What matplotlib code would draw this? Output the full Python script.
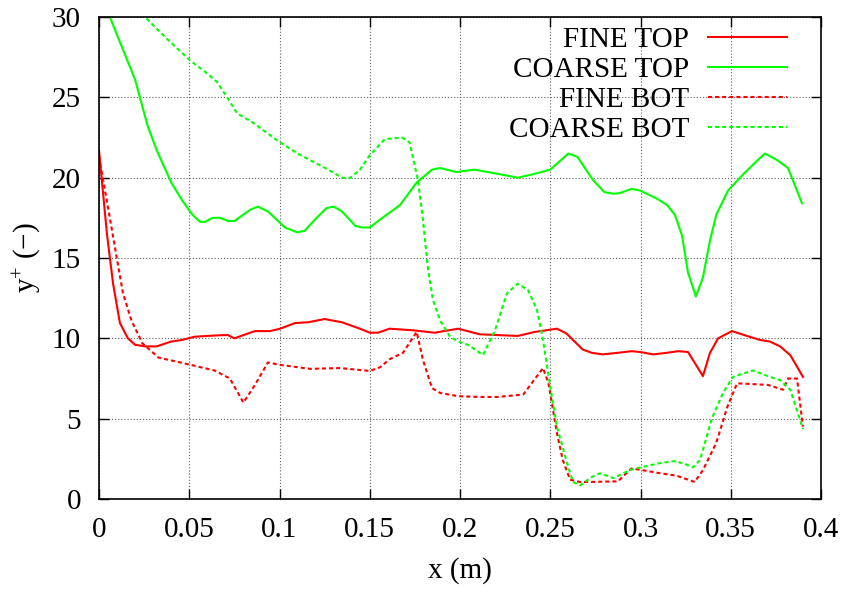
import numpy as np
import matplotlib
matplotlib.use('Agg')
import matplotlib.pyplot as plt

plt.rcParams['font.family'] = ['Liberation Serif', 'DejaVu Serif']
plt.rcParams['mathtext.fontset'] = 'custom'
plt.rcParams['mathtext.rm'] = 'Liberation Serif'
plt.rcParams['mathtext.it'] = 'Liberation Serif:italic'

# FINE TOP (solid red)
fine_top_x = [0.0, 0.0044, 0.0078, 0.0116, 0.016, 0.02, 0.0255, 0.032, 0.040, 0.046,
              0.053, 0.060, 0.0687, 0.0715, 0.075, 0.080, 0.0864, 0.0947, 0.1003, 0.1086,
              0.1158, 0.125, 0.1346, 0.1446, 0.150, 0.1546, 0.161, 0.174, 0.186, 0.199,
              0.211, 0.232, 0.2415, 0.2537, 0.259, 0.268, 0.273, 0.279, 0.2875, 0.295,
              0.2997, 0.307, 0.3147, 0.3208, 0.3263, 0.3346, 0.3385, 0.343, 0.3507, 0.359,
              0.3662, 0.3717, 0.3773, 0.383, 0.390]
fine_top_y = [21.7, 16.5, 13.4, 10.95, 10.0, 9.6, 9.5, 9.5, 9.8, 9.9,
              10.1, 10.15, 10.2, 10.2, 10.0, 10.2, 10.45, 10.45, 10.6, 10.95,
              11.0, 11.2, 11.0, 10.6, 10.35, 10.35, 10.6, 10.5, 10.35, 10.6,
              10.25, 10.15, 10.4, 10.6, 10.3, 9.3, 9.1, 9.0, 9.1, 9.2,
              9.15, 9.0, 9.1, 9.2, 9.15, 7.65, 9.1, 10.0, 10.45, 10.15,
              9.9, 9.8, 9.5, 8.95, 7.6]

# COARSE TOP (solid green)
coarse_top_x = [0.0, 0.006, 0.02, 0.027, 0.032, 0.040, 0.046, 0.0517, 0.056, 0.0587,
                0.063, 0.067, 0.0716, 0.075, 0.0837, 0.088, 0.0936, 0.103, 0.1097, 0.114,
                0.1197, 0.126, 0.13, 0.1346, 0.142, 0.1457, 0.150, 0.157, 0.1668, 0.176,
                0.1845, 0.189, 0.198, 0.208, 0.218, 0.232, 0.240, 0.250, 0.260, 0.265,
                0.2737, 0.280, 0.285, 0.2886, 0.295, 0.2997, 0.309, 0.3147, 0.319, 0.323,
                0.3263, 0.3307, 0.3346, 0.3385, 0.342, 0.3485, 0.3568, 0.365, 0.369, 0.3756,
                0.3817, 0.3895]
coarse_top_y = [31.7, 30.0, 26.1, 23.2, 21.7, 19.7, 18.6, 17.7, 17.25, 17.25,
                17.5, 17.5, 17.3, 17.3, 18.0, 18.2, 17.9, 16.9, 16.6, 16.7,
                17.4, 18.1, 18.2, 17.9, 17.0, 16.9, 16.9, 17.5, 18.3, 19.7,
                20.5, 20.6, 20.35, 20.5, 20.3, 20.0, 20.2, 20.5, 21.5, 21.3,
                19.85, 19.1, 19.0, 19.04, 19.3, 19.2, 18.7, 18.3, 17.7, 16.4,
                14.1, 12.6, 13.8, 16.1, 17.7, 19.2, 20.2, 21.1, 21.5, 21.1,
                20.6, 18.4]

# FINE BOT (dashed red)
fine_bot_x = [0.0, 0.006, 0.010, 0.0133, 0.018, 0.024, 0.033, 0.045, 0.064, 0.0725,
              0.080, 0.0864, 0.0936, 0.1003, 0.117, 0.1335, 0.150, 0.1557, 0.161, 0.1684,
              0.176, 0.1795, 0.1845, 0.189, 0.199, 0.211, 0.2205, 0.235, 0.246, 0.249,
              0.2537, 0.257, 0.261, 0.2665, 0.272, 0.2875, 0.295, 0.3008, 0.311, 0.320,
              0.330, 0.3346, 0.342, 0.348, 0.3535, 0.3623, 0.3706, 0.379, 0.3817, 0.3867,
              0.390]
fine_bot_y = [21.3, 17.5, 14.9, 12.8, 11.1, 9.7, 8.8, 8.5, 8.0, 7.5,
              6.0, 7.1, 8.5, 8.35, 8.1, 8.15, 7.97, 8.2, 8.7, 9.1,
              10.4, 8.65, 6.9, 6.6, 6.4, 6.35, 6.35, 6.5, 8.15, 7.2,
              4.1, 2.4, 1.2, 1.06, 1.06, 1.1, 1.9, 1.8, 1.6, 1.45,
              1.06, 1.8, 3.5, 5.7, 7.2, 7.15, 7.1, 6.8, 7.5, 7.5,
              4.5]

# COARSE BOT (dashed green)
coarse_bot_x = [0.0, 0.0255, 0.0366, 0.0504, 0.0587, 0.0654, 0.071, 0.0765, 0.0848, 0.099,
                0.110, 0.127, 0.1346, 0.139, 0.1446, 0.150, 0.1584, 0.1678, 0.172, 0.1767,
                0.1795, 0.1823, 0.185, 0.189, 0.1945, 0.199, 0.2044, 0.2127, 0.2194, 0.226,
                0.232, 0.2377, 0.2427, 0.246, 0.250, 0.2537, 0.2593, 0.2626, 0.2665, 0.273,
                0.2776, 0.285, 0.294, 0.3014, 0.311, 0.319, 0.3247, 0.329, 0.333, 0.3396,
                0.3457, 0.3512, 0.3623, 0.3717, 0.3773, 0.383, 0.390]
coarse_bot_y = [32.7, 30.0, 28.75, 27.3, 26.6, 25.95, 25.0, 24.0, 23.46, 22.3,
                21.5, 20.5, 20.0, 19.97, 20.5, 21.4, 22.4, 22.5, 22.2, 19.85,
                17.36, 14.25, 12.4, 11.1, 10.1, 9.8, 9.6, 8.96, 10.5, 12.8,
                13.4, 13.0, 11.76, 9.9, 7.0, 4.5, 2.24, 1.06, 0.85, 1.37,
                1.6, 1.3, 1.8, 2.0, 2.24, 2.36, 2.18, 1.97, 2.43, 5.04,
                6.6, 7.6, 8.0, 7.6, 7.4, 6.8, 4.36]

x_ticks = [0, 0.05, 0.1, 0.15, 0.2, 0.25, 0.3, 0.35, 0.4]
x_tick_labels = ['0', '0.05', '0.1', '0.15', '0.2', '0.25', '0.3', '0.35', '0.4']
y_ticks = [0, 5, 10, 15, 20, 25, 30]

red = '#ff0000'
green = '#00ff00'
dash = (0, (1.95, 1.45))
fs = 21

fig = plt.figure(figsize=(8.49, 5.94), dpi=100)
ax = fig.add_axes([99 / 849, 95 / 594, 722 / 849, 482 / 594])

ax.plot(fine_top_x, fine_top_y, color=red, lw=1.5, label='FINE TOP')
ax.plot(coarse_top_x, coarse_top_y, color=green, lw=1.5, label='COARSE TOP')
ax.plot(fine_bot_x, fine_bot_y, color=red, lw=1.5, linestyle=dash, label='FINE BOT')
ax.plot(coarse_bot_x, coarse_bot_y, color=green, lw=1.5, linestyle=dash, label='COARSE BOT')

ax.set_xlim(0, 0.4)
ax.set_ylim(0, 30)
ax.set_xticks(x_ticks)
ax.set_xticklabels(x_tick_labels)
ax.set_yticks(y_ticks)
ax.grid(True, color='#606060', linestyle=(0, (1, 1.8)), lw=0.8)
ax.tick_params(direction='in', length=7, width=1, top=True, right=True,
               labelsize=fs)
ax.tick_params(axis='x', pad=13)
ax.tick_params(axis='y', pad=13)
for s in ax.spines.values():
    s.set_linewidth(1.2)

ax.set_xlabel('x (m)', fontsize=fs, labelpad=10)
ax.set_ylabel(r'y$^{+}$ (−)', fontsize=fs, labelpad=6)

leg = ax.legend(loc='upper right', bbox_to_anchor=(0.961, 0.9917), frameon=False,
                markerfirst=False, fontsize=fs, handlelength=2.7, handletextpad=0.65,
                labelspacing=0.12, borderaxespad=0, borderpad=0.2)

fig.savefig('out.png', dpi=100)
